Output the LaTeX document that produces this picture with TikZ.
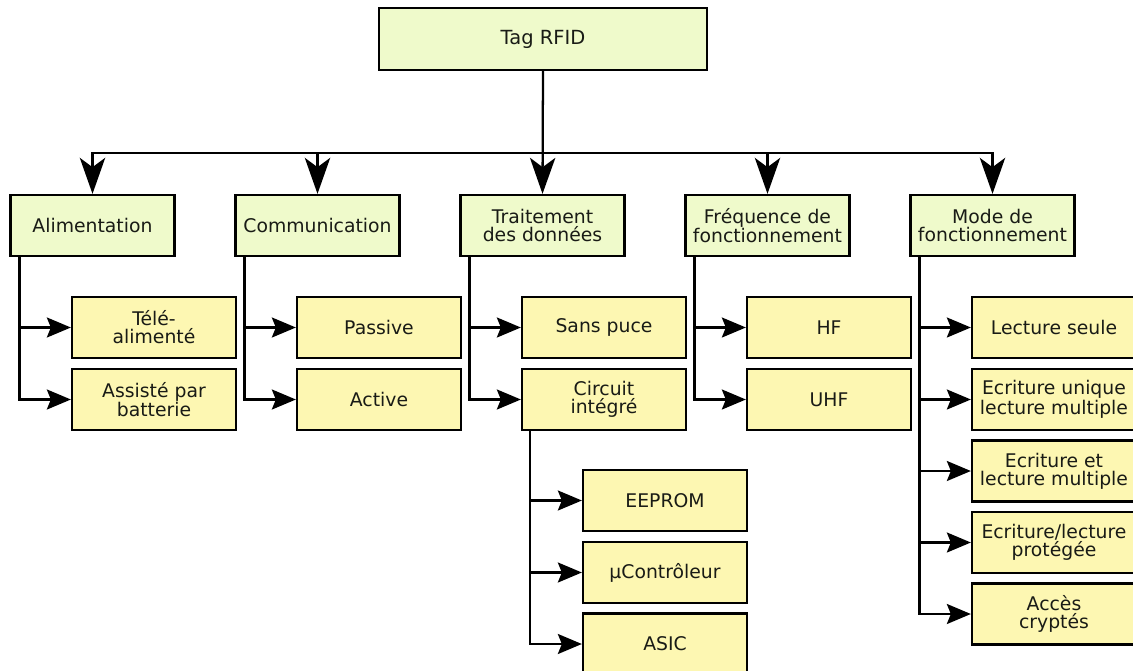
\documentclass[tikz,border=0pt]{standalone}
\usepackage{fontspec}
\setmainfont{DejaVu Sans}
\usetikzlibrary{
  arrows.meta,
  positioning
}
\definecolor{boxgreen}{RGB}{239,250,203}
\definecolor{boxyellow}{RGB}{253,247,178}
\definecolor{textdark}{RGB}{25,27,22}
\tikzset{
  basebox/.style={draw=black, line width=1.7pt, rectangle, align=center,
    text=textdark, font=\fontsize{14.1}{13.6}\selectfont, inner sep=2pt},
  rootbox/.style={basebox, fill=boxgreen, minimum width=246pt, minimum height=46.5pt,
    font=\fontsize{14.6}{14}\selectfont},
  catbox/.style={basebox, fill=boxgreen, minimum width=123pt, minimum height=45.75pt},
  leafbox/.style={basebox, fill=boxyellow, minimum width=123pt, minimum height=45.75pt},
  bigarr/.style={line width=1.7pt, -{Stealth[length=27pt, width=19pt, inset=7pt]}},
  smallarr/.style={line width=1.7pt, -{Stealth[length=18pt, width=15pt, inset=3pt]}}
}

\begin{document}
\begin{tikzpicture}[x=0.75pt,y=-0.75pt]
  \useasboundingbox (0,0) rectangle (1133,671);

  % root and bus
  \node[rootbox] (tag) at (543,39) {Tag RFID};
  \coordinate (bus) at (543,153);

  % categories
  \node[catbox] (alim)  at (92.5,225.5)  {Alimentation};
  \node[catbox] (comm)  at (317.5,225.5) {Communication};
  \node[catbox] (trait) at (542.5,225.5) {Traitement\\des données};
  \node[catbox] (freq)  at (767.5,225.5) {Fréquence de\\fonctionnement};
  \node[catbox] (mode)  at (992.5,225.5) {Mode de\\fonctionnement};

  % leaves
  \node[leafbox] (tele)  at (154,327.5) {Télé-\\alimenté};
  \node[leafbox] (batt)  at (154,399.5) {Assisté par\\batterie};
  \node[leafbox] (pass)  at (379,327.5) {Passive};
  \node[leafbox] (act)   at (379,399.5) {Active};
  \node[leafbox] (spuce) at (604,327.5) {Sans puce};
  \node[leafbox] (circ)  at (604,399.5) {Circuit\\intégré};
  \node[leafbox] (hf)    at (829,327.5) {HF};
  \node[leafbox] (uhf)   at (829,399.5) {UHF};
  \node[leafbox] (lect)  at (1054,327.5) {Lecture seule};
  \node[leafbox] (ecru)  at (1054,399.5) {Ecriture unique\\lecture multiple};
  \node[leafbox] (ecrm)  at (1054,471)   {Ecriture et\\lecture multiple};
  \node[leafbox] (ecrp)  at (1054,542.5) {Ecriture/lecture\\protégée};
  \node[leafbox] (acc)   at (1054,614)   {Accès\\cryptés};

  % circuit types
  \node[leafbox] (eep)  at (665,500.5) {EEPROM};
  \node[leafbox] (muc)  at (665,572.5) {µContrôleur};
  \node[leafbox] (asic) at (665,644)   {ASIC};

  % connectors
  \draw[bigarr] (tag.south) -- (trait.north);
  \draw[bigarr] (bus) -| (alim.north);
  \draw[bigarr] (bus) -| (comm.north);
  \draw[bigarr] (bus) -| (freq.north);
  \draw[bigarr] (bus) -| (mode.north);

  \draw[smallarr] ([xshift=7.5pt]alim.south west) |- (tele.west);
  \draw[smallarr] ([xshift=7.5pt]alim.south west) |- (batt.west);
  \draw[smallarr] ([xshift=7.5pt]comm.south west) |- (pass.west);
  \draw[smallarr] ([xshift=7.5pt]comm.south west) |- (act.west);
  \draw[smallarr] ([xshift=7.5pt]trait.south west) |- (spuce.west);
  \draw[smallarr] ([xshift=7.5pt]trait.south west) |- (circ.west);
  \draw[smallarr] ([xshift=7.5pt]freq.south west) |- (hf.west);
  \draw[smallarr] ([xshift=7.5pt]freq.south west) |- (uhf.west);
  \draw[smallarr] ([xshift=7.5pt]mode.south west) |- (lect.west);
  \draw[smallarr] ([xshift=7.5pt]mode.south west) |- (ecru.west);
  \draw[smallarr] ([xshift=7.5pt]mode.south west) |- (ecrm.west);
  \draw[smallarr] ([xshift=7.5pt]mode.south west) |- (ecrp.west);
  \draw[smallarr] ([xshift=7.5pt]mode.south west) |- (acc.west);

  \draw[smallarr] ([xshift=7pt]circ.south west) |- (eep.west);
  \draw[smallarr] ([xshift=7pt]circ.south west) |- (muc.west);
  \draw[smallarr] ([xshift=7pt]circ.south west) |- (asic.west);

\end{tikzpicture}
\end{document}
